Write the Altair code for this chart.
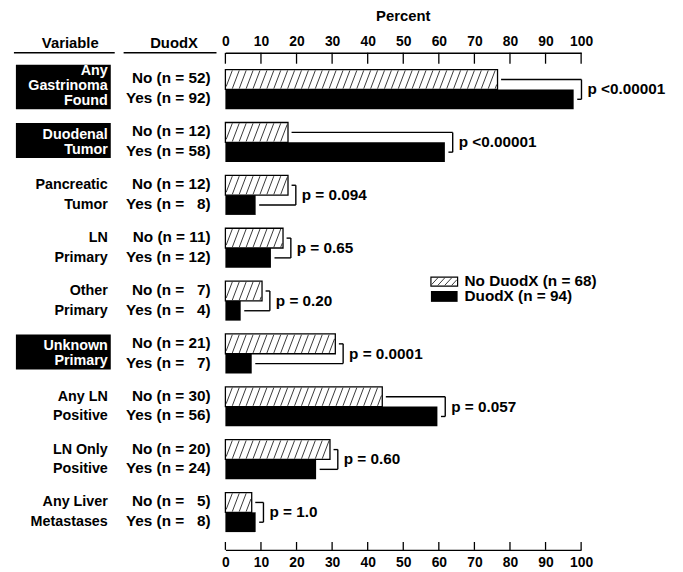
import altair as alt
import pandas as pd

# ---------------- data ----------------
variables = ["Any\nGastrinoma\nFound", "Duodenal\nTumor", "Pancreatic\nTumor",
             "LN\nPrimary", "Other\nPrimary", "Unknown\nPrimary",
             "Any LN\nPositive", "LN Only\nPositive", "Any Liver\nMetastases"]
highlighted = [True, True, False, False, False, True, False, False, False]
no_n = [52, 12, 12, 11, 7, 21, 30, 20, 5]
yes_n = [92, 58, 8, 12, 4, 7, 56, 24, 8]
no_pct = [76.5, 17.6, 17.6, 16.2, 10.3, 30.9, 44.1, 29.4, 7.4]
yes_pct = [97.9, 61.7, 8.5, 12.8, 4.3, 7.4, 59.6, 25.5, 8.5]
p_labels = ["p <0.00001", "p <0.00001", "p = 0.094", "p = 0.65", "p = 0.20",
            "p = 0.0001", "p = 0.057", "p = 0.60", "p = 1.0"]
tick_values = [0, 10, 20, 30, 40, 50, 60, 70, 80, 90, 100]
legend_labels = ["No DuodX (n = 68)", "DuodX (n = 94)"]
header_labels = ["Variable", "DuodX"]
axis_title = "Percent"

# ---------------- geometry / style ----------------
FONT = "Liberation Sans"
W, H = 360, 503
PITCH = 53.5      # px between groups
TOP = 17.0        # px from plot top to first bar
HALF = 20.0       # px height of one bar
PXU = W / 100.0   # px per percent


def xv(px):
    return px / PXU


def yv(px):
    return (px - TOP) / PITCH


X_SCALE = alt.Scale(domain=[0, 100], nice=False, zero=False)
Y_SCALE = alt.Scale(domain=[yv(0), yv(H)], reverse=True, nice=False, zero=False)


def xq(f, axis=None):
    return alt.X(f"{f}:Q", scale=X_SCALE, axis=axis)


def yq(f):
    return alt.Y(f"{f}:Q", scale=Y_SCALE, axis=None)


HSTEP, HDX = 7.0, 7.0


def hatch(xl, xr, top, bottom, inset=0.8):
    segs = []
    top += inset
    bottom -= inset
    h = bottom - top
    x0 = xl - HDX
    while x0 < xr:
        t0 = max(0.0, (xl + inset - x0) / HDX)
        t1 = min(1.0, (xr - inset - x0) / HDX)
        if t1 > t0:
            segs.append(dict(hx=xv(x0 + t0 * HDX), hy=yv(bottom - t0 * h),
                             hx2=xv(x0 + t1 * HDX), hy2=yv(bottom - t1 * h)))
        x0 += HSTEP
    return segs


bar_rows, hatch_rows, br_rows, p_rows, lab_rows, var_rows, box_rows = [], [], [], [], [], [], []
for g in range(len(variables)):
    gtop = TOP + g * PITCH
    for s, (series, vals, ns) in enumerate([("No", no_pct, no_n), ("Yes", yes_pct, yes_n)]):
        bar_rows.append(dict(series=series, x0=0.0, val=vals[g],
                             y0=g + s * HALF / PITCH, y1=g + (s + 1) * HALF / PITCH))
        n = ns[g]
        nstr = ("\u2007" + str(n)) if n < 10 else str(n)
        lab_rows.append(dict(label=f"{series} (n = {nstr})",
                             y=g + (s + 0.5) * HALF / PITCH - 1 / PITCH))
    hatch_rows += hatch(0.0, no_pct[g] * PXU, gtop, gtop + HALF)
    # bracket
    nc = g + 0.5 * HALF / PITCH
    yc = g + 1.5 * HALF / PITCH
    bx = max(no_pct[g], yes_pct[g]) + 2.2
    br_rows += [dict(x=no_pct[g] + 1.0, x2=bx, y=nc, y2=nc),
                dict(x=bx, x2=bx, y=nc, y2=yc),
                dict(x=yes_pct[g] + 1.0, x2=bx, y=yc, y2=yc)]
    p_rows.append(dict(x=bx, y=g + HALF / PITCH, label=p_labels[g]))
    # variable labels
    lines = variables[g].split("\n")
    if highlighted[g]:
        offs = [1.5, 16.5, 31.5] if len(lines) == 3 else [12.5, 27.5]
        b0, b1 = (-5, 40) if len(lines) == 3 else (0.5, 36)
        box_rows.append(dict(y0=g + b0 / PITCH, y1=g + b1 / PITCH))
        col = "white"
    else:
        offs = [10, 30]
        col = "black"
    for ln, o in zip(lines, offs):
        var_rows.append(dict(line=ln, y=g + o / PITCH, col=col))

bars = pd.DataFrame(bar_rows)
hatch_df = pd.DataFrame(hatch_rows)
br_df = pd.DataFrame(br_rows)
p_df = pd.DataFrame(p_rows)
lab_df = pd.DataFrame(lab_rows)
var_df = pd.DataFrame(var_rows)
box_df = pd.DataFrame(box_rows)
ticks_df = pd.DataFrame({"t": tick_values})

# legend (plot-relative px converted to data units)
leg_sw = pd.DataFrame([
    dict(kind="No", x0=xv(208), x1=xv(235), y0=yv(227), y1=yv(236)),
    dict(kind="Yes", x0=xv(208), x1=xv(235), y0=yv(241), y1=yv(252)),
])
leg_hatch = pd.DataFrame(hatch(208, 235, 227, 236, inset=0.7))
leg_txt = pd.DataFrame({"label": legend_labels, "x": [xv(242)] * 2, "y": [yv(231), yv(246.5)]})

TXT = dict(font=FONT, fontWeight="bold", fontSize=15, color="black")
TXT_L = dict(TXT, fontSize=15.5)

axis_common = dict(values=tick_values, ticks=False, grid=False, domain=True,
                   domainColor="black", domainWidth=1.5, labelFont=FONT,
                   labelFontSize=14, labelFontWeight="bold", labelColor="black",
                   title=None, labelFlush=False)
top_axis = alt.Axis(orient="top", labelPadding=4, **axis_common)
bottom_axis = alt.Axis(orient="bottom", labelPadding=6, **axis_common)

layers = []
layers.append(alt.Chart(ticks_df).mark_rule(color="black", strokeWidth=1.3).encode(
    x=xq("t", top_axis), y=alt.value(0), y2=alt.value(11)))
layers.append(alt.Chart(ticks_df).mark_rule(color="black", strokeWidth=1.3).encode(
    x=xq("t", bottom_axis), y=alt.value(H - 8), y2=alt.value(H)))

no_bars = bars[bars.series == "No"]
yes_bars = bars[bars.series == "Yes"]
layers.append(alt.Chart(no_bars).mark_rect(fill="white").encode(
    x=xq("x0"), x2="val:Q", y=yq("y0"), y2="y1:Q"))
layers.append(alt.Chart(hatch_df).mark_rule(color="#222", strokeWidth=0.9).encode(
    x=xq("hx"), x2="hx2:Q", y=yq("hy"), y2="hy2:Q"))
layers.append(alt.Chart(no_bars).mark_rect(fill=None, stroke="black", strokeWidth=1.3).encode(
    x=xq("x0"), x2="val:Q", y=yq("y0"), y2="y1:Q"))
layers.append(alt.Chart(yes_bars).mark_rect(fill="black").encode(
    x=xq("x0"), x2="val:Q", y=yq("y0"), y2="y1:Q"))

layers.append(alt.Chart(br_df).mark_rule(color="black", strokeWidth=1.4).encode(
    x=xq("x"), x2="x2:Q", y=yq("y"), y2="y2:Q"))
layers.append(alt.Chart(p_df).mark_text(align="left", baseline="middle", dx=6, **TXT_L).encode(
    x=xq("x"), y=yq("y"), text="label:N"))

layers.append(alt.Chart(lab_df).mark_text(align="right", baseline="middle", **TXT_L).encode(
    x=alt.value(-15), y=yq("y"), text="label:N"))

layers.append(alt.Chart(box_df).mark_rect(color="black").encode(
    x=alt.value(-212), x2=alt.value(-116), y=yq("y0"), y2="y1:Q"))
var_txt = dict(TXT)
var_txt.pop("color")
var_txt["fontSize"] = 14.5
layers.append(alt.Chart(var_df).mark_text(align="right", baseline="middle", **var_txt).encode(
    x=alt.value(-119), y=yq("y"), text="line:N", color=alt.Color("col:N", scale=None)))

hdr_df = pd.DataFrame({"label": header_labels})
layers.append(alt.Chart(hdr_df.iloc[[0]]).mark_text(align="center", baseline="middle", **TXT).encode(
    x=alt.value(-157), y=alt.value(-10), text="label:N"))
layers.append(alt.Chart(hdr_df.iloc[[1]]).mark_text(align="center", baseline="middle", **TXT).encode(
    x=alt.value(-52), y=alt.value(-10), text="label:N"))
layers.append(alt.Chart(hdr_df.iloc[[0]]).mark_rule(color="black", strokeWidth=1.5).encode(
    x=alt.value(-214), x2=alt.value(-112), y=alt.value(0)))
layers.append(alt.Chart(hdr_df.iloc[[1]]).mark_rule(color="black", strokeWidth=1.5).encode(
    x=alt.value(-103), x2=alt.value(-9), y=alt.value(0)))
layers.append(alt.Chart(pd.DataFrame({"label": [axis_title]})).mark_text(
    align="center", baseline="middle", **TXT).encode(
    x=alt.value(W / 2), y=alt.value(-37), text="label:N"))

layers.append(alt.Chart(leg_sw[leg_sw.kind == "No"]).mark_rect(fill="white", stroke="black", strokeWidth=1.2).encode(
    x=xq("x0"), x2="x1:Q", y=yq("y0"), y2="y1:Q"))
layers.append(alt.Chart(leg_hatch).mark_rule(color="#222", strokeWidth=0.9).encode(
    x=xq("hx"), x2="hx2:Q", y=yq("hy"), y2="hy2:Q"))
layers.append(alt.Chart(leg_sw[leg_sw.kind == "Yes"]).mark_rect(fill="black").encode(
    x=xq("x0"), x2="x1:Q", y=yq("y0"), y2="y1:Q"))
layers.append(alt.Chart(leg_txt).mark_text(align="left", baseline="middle", **TXT_L).encode(
    x=xq("x"), y=yq("y"), text="label:N"))

chart = alt.layer(*layers).resolve_axis(x="independent").properties(
    width=W, height=H,
    padding={"left": 220, "top": 42, "right": 95, "bottom": 19},
    autosize=alt.AutoSizeParams(type="none"),
    background="white",
).configure_view(strokeWidth=0)

chart.save("out.html", embed_options={"renderer": "svg", "actions": False})
